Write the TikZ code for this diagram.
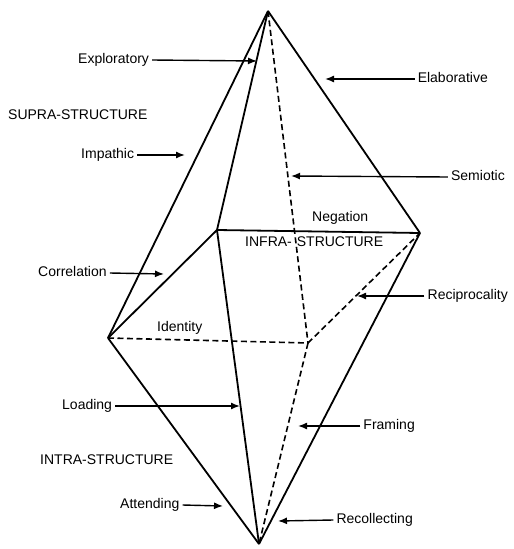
\documentclass[tikz,border=0pt]{standalone}
\usepackage{fontspec}
\setmainfont{Liberation Sans}
\usetikzlibrary{arrows.meta}
\begin{document}
\begin{tikzpicture}[x=1pt,y=-1pt,
  edge/.style={line width=1.8pt, line join=round},
  hid/.style={line width=1.6pt, dash pattern=on 6pt off 3.5pt},
  lab/.style={font=\fontsize{14}{16}\selectfont, inner sep=0pt, text height=10pt, text depth=3pt},
  ptr/.style={line width=1.4pt, -{Latex[length=9pt,width=7pt]}}]
\useasboundingbox (0,0) rectangle (514,549);
% vertices
\coordinate (T) at (268,11);
\coordinate (L) at (108,338);
\coordinate (B) at (259,544);
\coordinate (FL) at (217,230);
\coordinate (R) at (420,233);
\coordinate (BC) at (308,343);
% hidden edges
\draw[hid] (T) -- (BC);
\draw[hid] (L) -- (BC);
\draw[hid] (BC) -- (R);
\draw[hid] (BC) -- (B);
% visible edges
\draw[edge] (T) -- (L);
\draw[edge] (T) -- (FL);
\draw[edge] (T) -- (R);
\draw[edge] (FL) -- (R);
\draw[edge] (FL) -- (L);
\draw[edge] (FL) -- (B);
\draw[edge] (L) -- (B);
\draw[edge] (R) -- (B);
% plain labels
\node[lab, anchor=west] (supra) at (8,116) {SUPRA-STRUCTURE};
\node[lab, anchor=west] (infra) at (245,243) {INFRA-\hspace{5pt}STRUCTURE};
\node[lab, anchor=west] (intra) at (40,461) {INTRA-STRUCTURE};
\node[lab, anchor=west] (neg) at (312,218) {Negation};
\node[lab, anchor=west] (ident) at (157,328) {Identity};
% left pointer labels
\node[lab, anchor=west] (expl) at (78,60) {Exploratory};
\node[lab, anchor=west] (imp) at (81,155) {Impathic};
\node[lab, anchor=west] (corr) at (38,273) {Correlation};
\node[lab, anchor=west] (load) at (62,406) {Loading};
\node[lab, anchor=west] (att) at (120,505) {Attending};
% right pointer labels
\node[lab, anchor=east] (elab) at (488,79) {Elaborative};
\node[lab, anchor=east] (sem) at (505,177) {Semiotic};
\node[lab, anchor=east] (reci) at (508,296) {Reciprocality};
\node[lab, anchor=east] (fram) at (415,426) {Framing};
\node[lab, anchor=east] (reco) at (413,520) {Recollecting};
% pointer tips
\coordinate (tExpl) at (257,61);
\coordinate (tImp) at (185,155);
\coordinate (tCorr) at (164,274);
\coordinate (tLoad) at (240,406);
\coordinate (tAtt) at (223,506);
\coordinate (tElab) at (325,79);
\coordinate (tSem) at (291,176);
\coordinate (tReci) at (357,296);
\coordinate (tFram) at (298,426);
\coordinate (tReco) at (278,521);
% pointers
\draw[ptr] ([xshift=3pt]expl.east) -- (tExpl);
\draw[ptr] ([xshift=3pt]imp.east) -- (tImp);
\draw[ptr] ([xshift=3pt]corr.east) -- (tCorr);
\draw[ptr] ([xshift=3pt]load.east) -- (tLoad);
\draw[ptr] ([xshift=3pt]att.east) -- (tAtt);
\draw[ptr] ([xshift=-3pt]elab.west) -- (tElab);
\draw[ptr] ([xshift=-3pt]sem.west) -- (tSem);
\draw[ptr] ([xshift=-3pt]reci.west) -- (tReci);
\draw[ptr] ([xshift=-3pt]fram.west) -- (tFram);
\draw[ptr] ([xshift=-3pt]reco.west) -- (tReco);
\end{tikzpicture}
\end{document}
